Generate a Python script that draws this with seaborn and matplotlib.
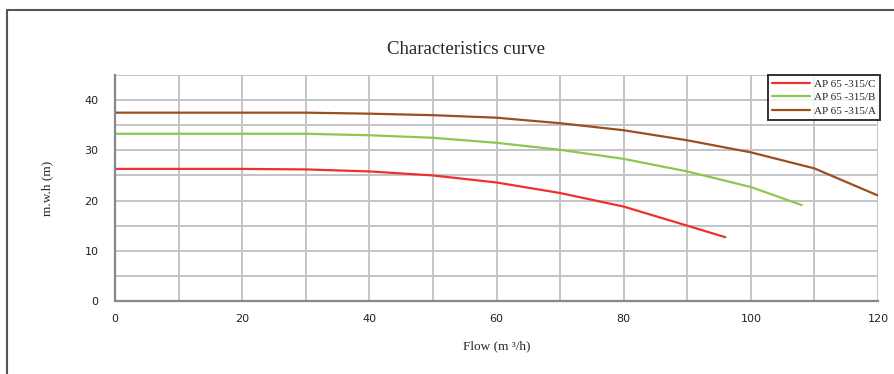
import pandas as pd
import seaborn as sns
import matplotlib.pyplot as plt
from matplotlib.patches import Rectangle

# --- data ---
flow_c = [0, 10, 20, 30, 40, 50, 60, 70, 80, 90, 96]
head_c = [26.3, 26.3, 26.3, 26.2, 25.8, 25.0, 23.6, 21.5, 18.8, 15.0, 12.7]

flow_b = [0, 10, 20, 30, 40, 50, 60, 70, 80, 90, 100, 108]
head_b = [33.3, 33.3, 33.3, 33.3, 33.0, 32.5, 31.5, 30.1, 28.3, 25.8, 22.7, 19.1]

flow_a = [0, 10, 20, 30, 40, 50, 60, 70, 80, 90, 100, 110, 120]
head_a = [37.5, 37.5, 37.5, 37.5, 37.3, 37.0, 36.5, 35.4, 34.0, 32.0, 29.6, 26.4, 21.0]

series = ["AP 65 -315/C", "AP 65 -315/B", "AP 65 -315/A"]
colors = ["#f03030", "#8cc850", "#9a4f1e"]

x_ticks = [0, 20, 40, 60, 80, 100, 120]
y_ticks = [0, 10, 20, 30, 40]

df = pd.concat([
    pd.DataFrame({"flow": flow_c, "head": head_c, "pump": series[0]}),
    pd.DataFrame({"flow": flow_b, "head": head_b, "pump": series[1]}),
    pd.DataFrame({"flow": flow_a, "head": head_a, "pump": series[2]}),
])

sns.set_style("white")
serif = ["Liberation Serif", "DejaVu Serif"]

fig = plt.figure(figsize=(8.94, 3.74), dpi=100)
fig.patches.append(Rectangle((7 / 894, -0.05), 1.0, 1 - 10 / 374 + 0.05,
                             transform=fig.transFigure, fill=False,
                             edgecolor="#555555", linewidth=1.5))
ax = fig.add_axes([115 / 894, 1 - 301 / 374, 763 / 894, 226 / 374])

sns.lineplot(data=df, x="flow", y="head", hue="pump", palette=colors,
             hue_order=series, linewidth=1.6, ax=ax, sort=False)

ax.set_xlim(0, 120)
ax.set_ylim(0, 45)
ax.set_xticks(x_ticks)
ax.set_xticks(range(0, 121, 10), minor=True)
ax.set_yticks(y_ticks)
ax.set_yticks(range(0, 46, 5), minor=True)
ax.grid(True, which="both", color="#c4c4c4", linewidth=1.4)
ax.set_axisbelow(True)
ax.tick_params(axis="both", which="both", length=0, labelsize=8, colors="#222222")
ax.tick_params(axis="x", pad=9)
ax.tick_params(axis="y", pad=12)
for s in ["top", "right"]:
    ax.spines[s].set_visible(False)
for s in ["left", "bottom"]:
    ax.spines[s].set_color("#888888")
    ax.spines[s].set_linewidth(1.6)

ax.set_xlabel("Flow (m \u00b3/h)", family=serif, fontsize=9.5, labelpad=12)
ax.set_ylabel("m.w.h (m)", family=serif, fontsize=9.5, labelpad=22)
fig.text(466 / 894, 1 - 50 / 374, "Characteristics curve", family=serif,
         fontsize=13.5, ha="center", va="center")

leg = ax.legend(loc="upper right", bbox_to_anchor=(880 / 894, 1 - 75 / 374),
                bbox_transform=fig.transFigure, prop={"family": serif, "size": 8},
                frameon=True, fancybox=False, handlelength=3.4, handletextpad=0.4,
                borderpad=0.35, labelspacing=0.35, borderaxespad=0)
leg.get_frame().set_edgecolor("black")
leg.get_frame().set_linewidth(1.4)

fig.savefig("out.png", dpi=100)
